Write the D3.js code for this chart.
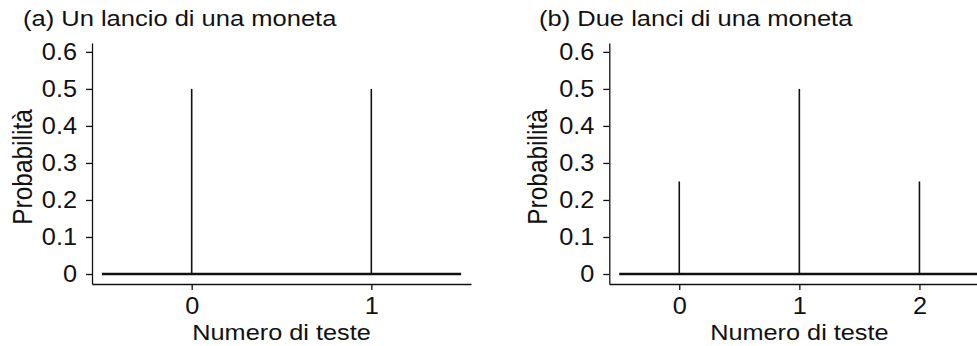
<!DOCTYPE html>
<html>
<head>
<meta charset="utf-8">
<script src="https://cdn.jsdelivr.net/npm/d3@7"></script>
<style>
  body { margin: 0; background: #fff; }
  svg { display: block; font-family: "Liberation Sans", Arial, Helvetica, sans-serif; }
  .axis path, .axis line { stroke: #111; stroke-width: 1.3; }
  .axis text { fill: #111; font-size: 23px; }
</style>
</head>
<body>
<div id="chart"></div>
<script>
// data
const panelTitles = ['(a) Un lancio di una moneta', '(b) Due lanci di una moneta'];
const headsA = [0, 1];
const probA = [0.5, 0.5];
const headsB = [0, 1, 2];
const probB = [0.25, 0.5, 0.25];
const yTicks = [0, 0.1, 0.2, 0.3, 0.4, 0.5, 0.6];
const yTickLabels = ['0', '0.1', '0.2', '0.3', '0.4', '0.5', '0.6'];
const xTitle = 'Numero di teste';
const yTitle = 'Probabilità';

const width = 977;
const height = 346;
const sxTick = 1.1;   // the original picture is a bit stretched sideways
const sxLabel = 1.15;
const sxTitle = 1.16;

const svg = d3.select('#chart')
  .append('svg')
  .attr('width', width)
  .attr('height', height);

const yScale = d3.scaleLinear().domain([-0.027, 0.624]).range([284, 43]);

const panels = [
  { title: panelTitles[0], heads: headsA, probs: probA, left: 92, right: 471, titleX: 23, yTitleX: 32 },
  { title: panelTitles[1], heads: headsB, probs: probB, left: 609.3, right: 989.4, titleX: 539, yTitleX: 547 },
];

panels.forEach((p) => {
  const n = p.heads.length - 1;
  const pad = (n + 1) * 0.0275;
  const xScale = d3.scaleLinear()
    .domain([-0.5 - pad, n + 0.5 + pad])
    .range([p.left, p.right]);

  const g = svg.append('g');

  // y axis
  const yAxis = d3.axisLeft(yScale)
    .tickValues(yTicks)
    .tickFormat((d, i) => yTickLabels[i])
    .tickSize(6)
    .tickSizeOuter(0);
  const ya = g.append('g')
    .attr('class', 'axis')
    .attr('transform', `translate(${p.left},0)`)
    .call(yAxis);
  ya.selectAll('text')
    .attr('x', -15 / sxTick)
    .attr('transform', `scale(${sxTick},1)`);

  // x axis
  const xAxis = d3.axisBottom(xScale)
    .tickValues(p.heads)
    .tickFormat(d3.format('d'))
    .tickSize(6)
    .tickPadding(8)
    .tickSizeOuter(0);
  const xa = g.append('g')
    .attr('class', 'axis')
    .attr('transform', `translate(0,${yScale.range()[0]})`)
    .call(xAxis);
  xa.selectAll('text').attr('transform', `scale(${sxTick},1)`);

  // baseline at zero
  g.append('line')
    .attr('x1', xScale(-0.5))
    .attr('x2', xScale(n + 0.5))
    .attr('y1', yScale(0))
    .attr('y2', yScale(0))
    .attr('stroke', '#111')
    .attr('stroke-width', 2.3);

  // probability stems
  g.append('g')
    .selectAll('line')
    .data(p.heads.map((h, i) => ({ h, p: p.probs[i] })))
    .join('line')
    .attr('x1', (d) => xScale(d.h))
    .attr('x2', (d) => xScale(d.h))
    .attr('y1', yScale(0))
    .attr('y2', (d) => yScale(d.p))
    .attr('stroke', '#111')
    .attr('stroke-width', 1.6);

  // panel title
  g.append('text')
    .attr('transform', `translate(${p.titleX},26) scale(${sxTitle},1)`)
    .attr('font-size', 22)
    .attr('fill', '#111')
    .text(p.title);

  // x title
  g.append('text')
    .attr('transform', `translate(${(p.left + p.right) / 2},340) scale(${sxLabel},1)`)
    .attr('text-anchor', 'middle')
    .attr('font-size', 22)
    .attr('fill', '#111')
    .text(xTitle);

  // y title
  g.append('text')
    .attr('transform', `translate(${p.yTitleX},167) scale(${sxLabel},1) rotate(-90)`)
    .attr('text-anchor', 'middle')
    .attr('font-size', 24.5)
    .attr('fill', '#111')
    .text(yTitle);
});
</script>
</body>
</html>
